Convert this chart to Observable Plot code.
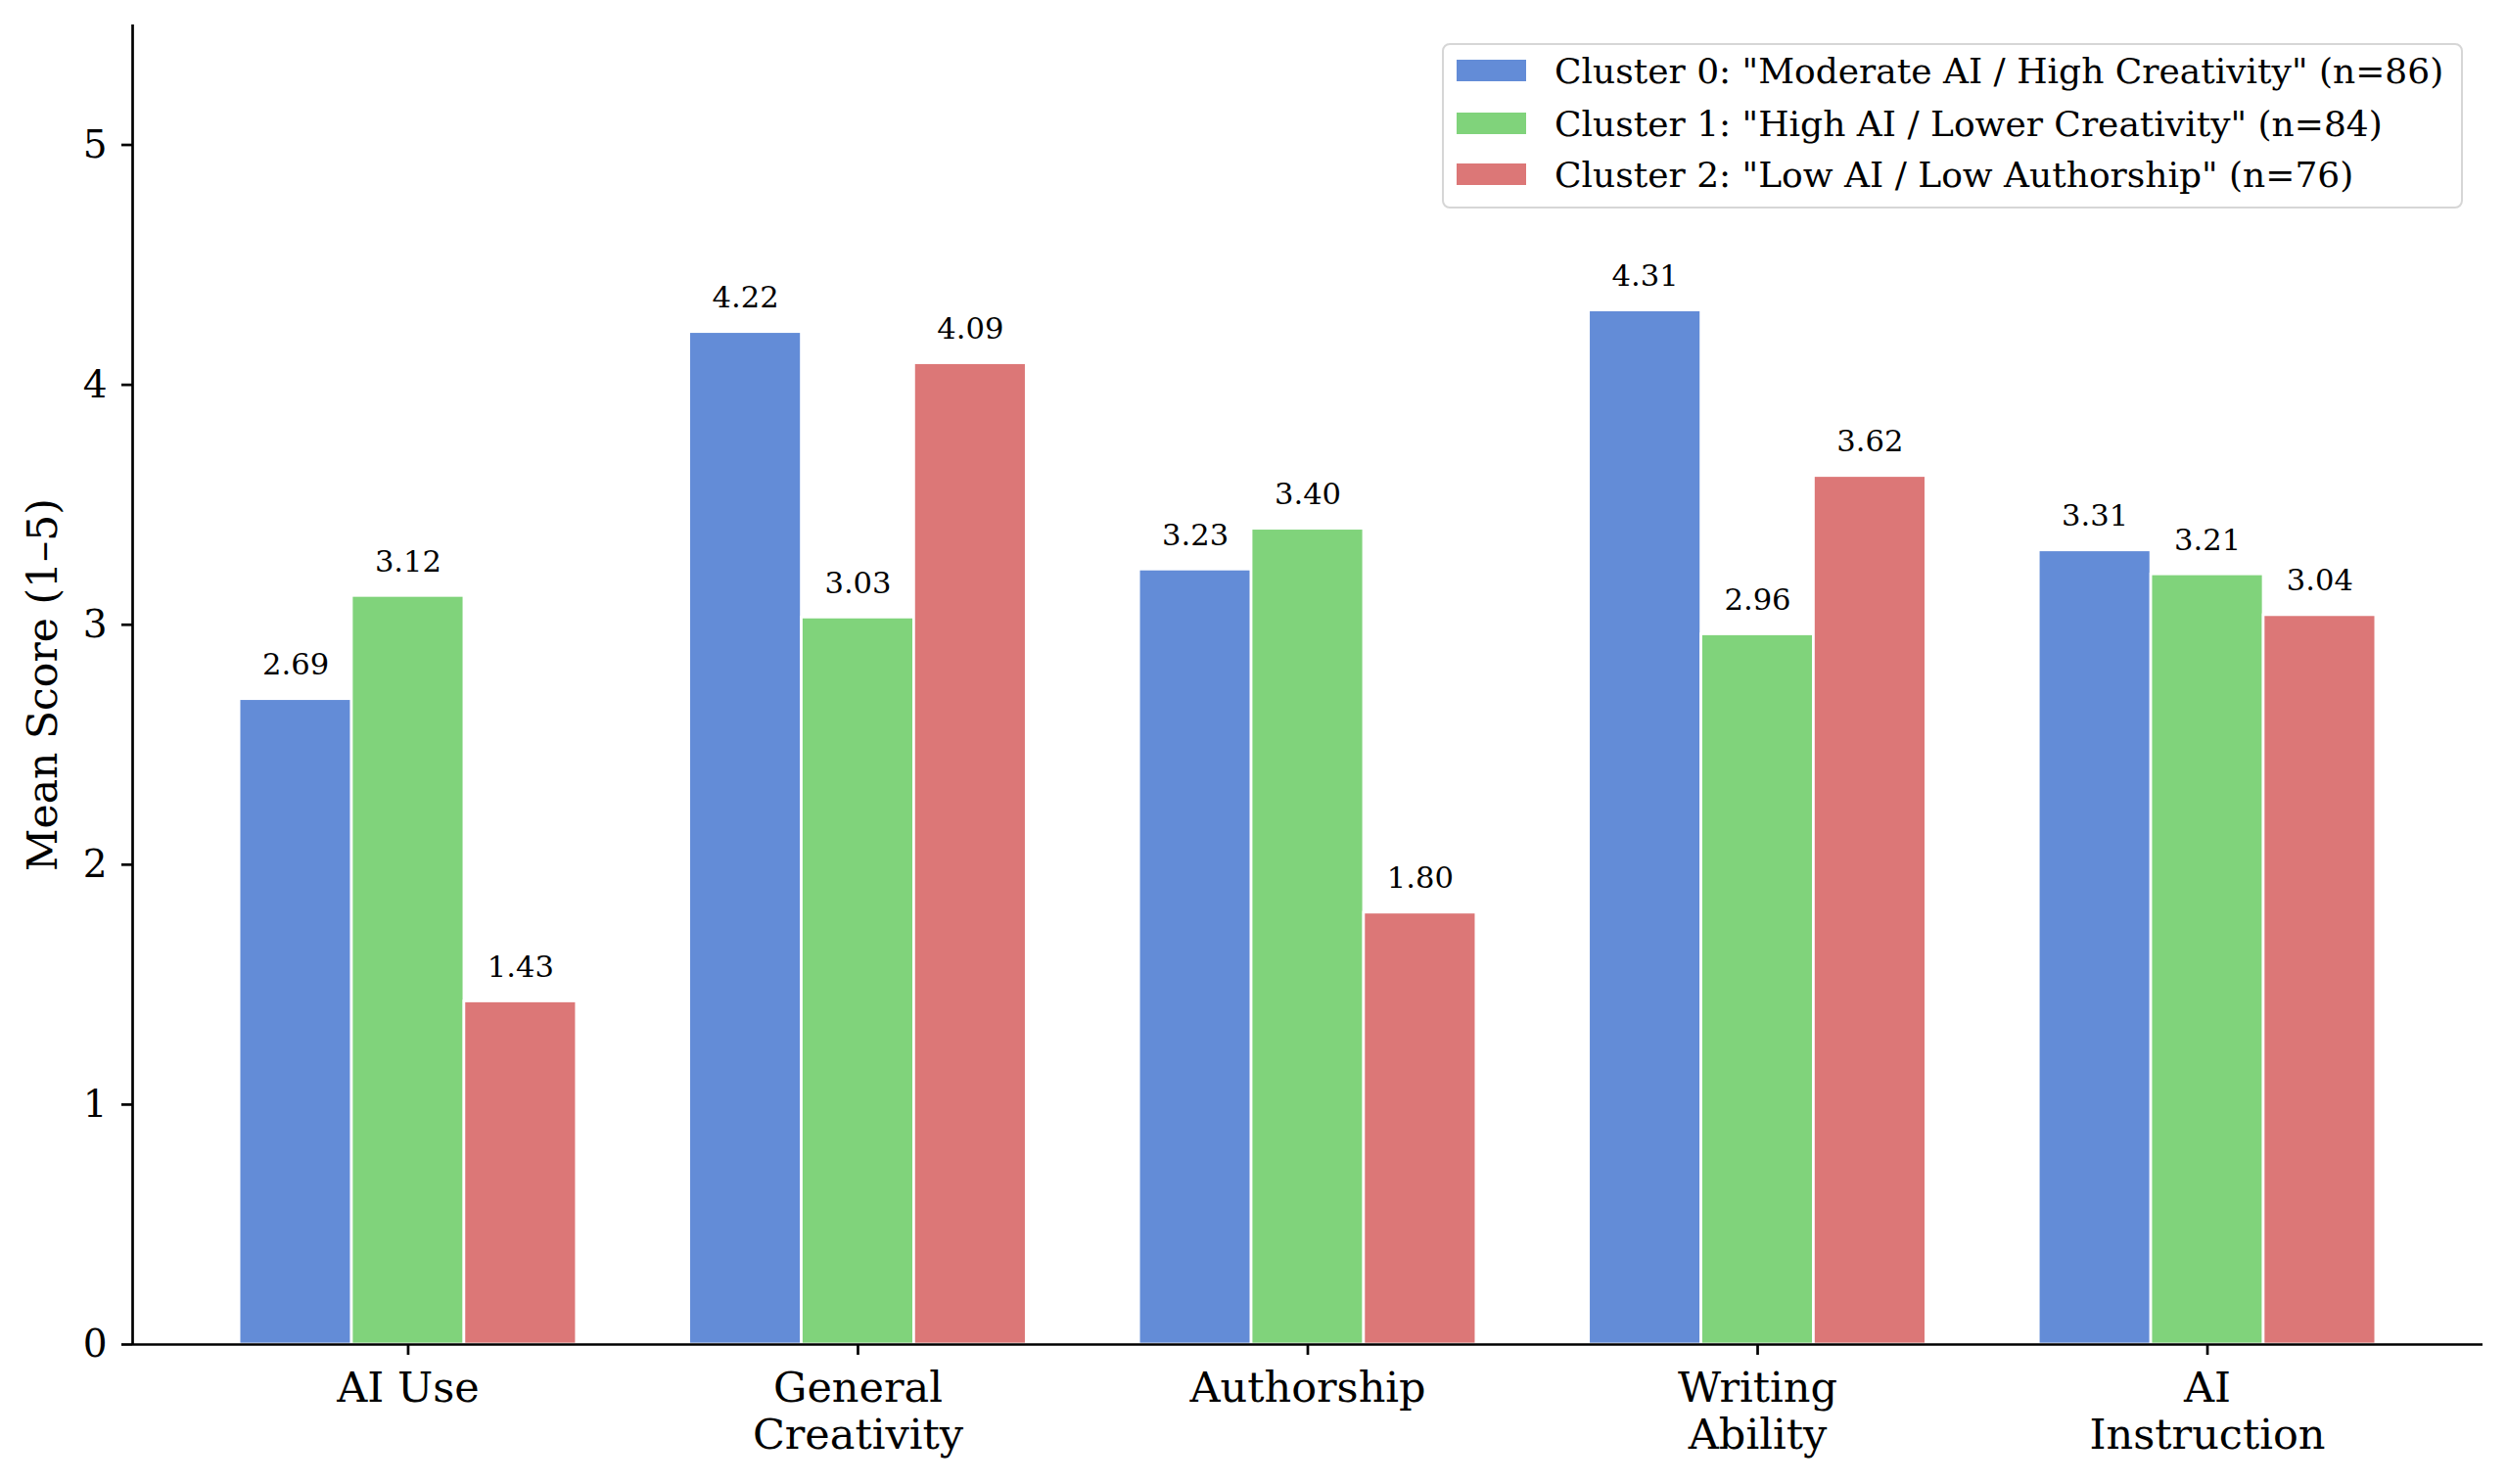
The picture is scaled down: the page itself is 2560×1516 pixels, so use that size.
<!DOCTYPE html>
<html>
<head>
<meta charset="utf-8">
<script src="https://cdn.jsdelivr.net/npm/d3@7"></script>
<script src="https://cdn.jsdelivr.net/npm/@observablehq/plot@0.6"></script>
<style>
  html, body { margin: 0; padding: 0; background: #fff; }
  #wrap { position: relative; width: 2560px; height: 1516px; font-family: "DejaVu Serif", serif; }
  #legend { position: absolute; left: 1473px; top: 44px; width: 1043px; height: 169px; box-sizing: border-box;
            border: 2.7px solid #d6d6d6; border-radius: 8px; background: rgba(255,255,255,0.8); }
  .row { position: absolute; left: 0; height: 50px; display: flex; align-items: center; white-space: nowrap; }
  .sw { width: 71px; height: 22px; margin-left: 13px; margin-right: 29px; }
  .lt { font-size: 36px; color: #000; }
</style>
</head>
<body>
<div id="wrap"><div id="chart"></div><div id="legend"></div></div>
<script>
const categories = ["AI Use", "General\nCreativity", "Authorship", "Writing\nAbility", "AI\nInstruction"];
const clusterNames = [
  'Cluster 0: "Moderate AI / High Creativity" (n=86)',
  'Cluster 1: "High AI / Lower Creativity" (n=84)',
  'Cluster 2: "Low AI / Low Authorship" (n=76)'
];
const cluster0 = [2.69, 4.22, 3.23, 4.31, 3.31];
const cluster1 = [3.12, 3.03, 3.40, 2.96, 3.21];
const cluster2 = [1.43, 4.09, 1.80, 3.62, 3.04];
const colors = ["#638cd7", "#80d37b", "#dc7777"];
const yTicks = [0, 1, 2, 3, 4, 5];

const series = [cluster0, cluster1, cluster2];
const barWidth = 0.25;
const rows = [];
series.forEach((vals, j) => vals.forEach((v, i) => {
  const c = i + (j - 1) * barWidth;
  rows.push({cat: i, cluster: j, value: v, xc: c, x1: c - barWidth / 2, x2: c + barWidth / 2});
}));
const edge = 1.5 * barWidth;
const pad = 0.05 * (categories.length - 1 + 2 * edge);
const xDomain = [-edge - pad, categories.length - 1 + edge + pad];

const chart = Plot.plot({
  width: 2560, height: 1516,
  marginLeft: 135, marginRight: 24, marginTop: 25, marginBottom: 143,
  style: {fontFamily: "DejaVu Serif", background: "white", color: "black"},
  x: {domain: xDomain},
  y: {domain: [0, 5.5]},
  color: {type: "ordinal", domain: [0, 1, 2], range: colors},
  marks: [
    Plot.rectY(rows, {x1: "x1", x2: "x2", y1: 0, y2: "value", fill: "cluster", stroke: "white", strokeWidth: 2.7}),
    Plot.text(rows, {x: "xc", y: "value", text: d => d.value.toFixed(2), dy: -25, lineAnchor: "bottom", fontSize: 30.6, fill: "black"}),
    Plot.axisY({ticks: yTicks, tickFormat: d => String(d), tickSize: 11, tickPadding: 15, fontSize: 39, strokeWidth: 2.7, label: null}),
    Plot.axisY({ticks: [], label: "Mean Score (1–5)", labelArrow: "none", labelAnchor: "center", labelOffset: 108, fontSize: 42.5}),
    Plot.axisX({ticks: d3.range(categories.length), tickFormat: i => categories[i], tickSize: 11, tickPadding: 13, fontSize: 43, lineHeight: 1.12, strokeWidth: 2.7, label: null}),
    Plot.ruleX([xDomain[0]], {stroke: "black", strokeWidth: 2.7}),
    Plot.ruleY([0], {stroke: "black", strokeWidth: 2.7})
  ]
});
document.getElementById("chart").appendChild(chart);

const legend = document.getElementById("legend");
const rowCenters = [29, 83, 135];
clusterNames.forEach((name, j) => {
  const r = document.createElement("div");
  r.className = "row";
  r.style.top = (rowCenters[j] - 25 - 2.7) + "px";
  const sw = document.createElement("div");
  sw.className = "sw";
  sw.style.background = colors[j];
  const t = document.createElement("span");
  t.className = "lt";
  t.textContent = name;
  r.appendChild(sw); r.appendChild(t);
  legend.appendChild(r);
});
</script>
</body>
</html>
